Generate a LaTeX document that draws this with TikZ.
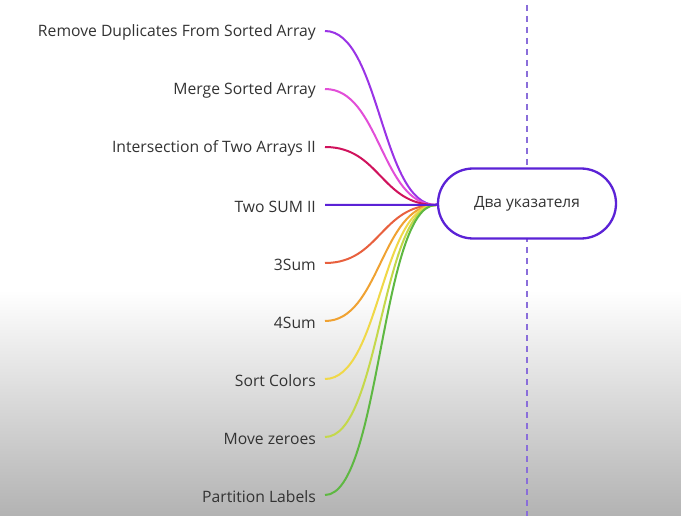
\documentclass[tikz,border=0pt]{standalone}
\usepackage{fontspec}
\setmainfont{Open Sans}
\begin{document}
\begin{tikzpicture}[x=1pt,y=-1pt,
  lbl/.style={anchor=east,inner sep=0pt,font=\fontsize{15.7}{18}\selectfont,text=black!80},
  conn/.style={line width=2pt},
  hub/.style={draw=c4,line width=2.3pt,rounded corners=35pt,minimum width=178pt,minimum height=70pt,fill=white,font=\fontsize{15.5}{18}\selectfont,text=black!80}]
\definecolor{c1}{HTML}{9A33E6}
\definecolor{c2}{HTML}{E24ED8}
\definecolor{c3}{HTML}{D0125C}
\definecolor{c4}{HTML}{5B22D6}
\definecolor{c5}{HTML}{E8603E}
\definecolor{c6}{HTML}{F0A232}
\definecolor{c7}{HTML}{F0D848}
\definecolor{c8}{HTML}{C4D84A}
\definecolor{c9}{HTML}{5EB842}
\definecolor{dashc}{HTML}{8A6EDA}
\useasboundingbox (0,0) rectangle (681,516);
\fill[white] (0,0) rectangle (681,292);
\shade[top color=white,bottom color=black!30] (0,290) rectangle (681,516);
\draw[dashc,line width=1.4pt,dash pattern=on 6pt off 5pt] (527,5) -- (527,516);
\node[hub] (hub) at (527,203.5) {\raisebox{-1.5pt}{Два указателя}};
\coordinate (p) at (436,205);
\foreach \i/\y/\t in {1/31/Remove Duplicates From Sorted Array,2/89/Merge Sorted Array,3/147/Intersection of Two Arrays II,4/205/Two SUM II,5/263/3Sum,6/321/4Sum,7/379/Sort Colors,8/437/Move zeroes,9/495/Partition Labels}{
  \node[lbl] (l\i) at (316,\y+1.5) {\t};
  \coordinate (s\i) at (325,\y);
}
\foreach \i in {1,2,3,5,6,7,8,9}{
  \draw[conn,c\i] (s\i) .. controls +(55,0) and +(-55,0) .. (p);
}
\draw[conn,c4] (s4) -- (p) -- (hub.west);
\end{tikzpicture}
\end{document}
